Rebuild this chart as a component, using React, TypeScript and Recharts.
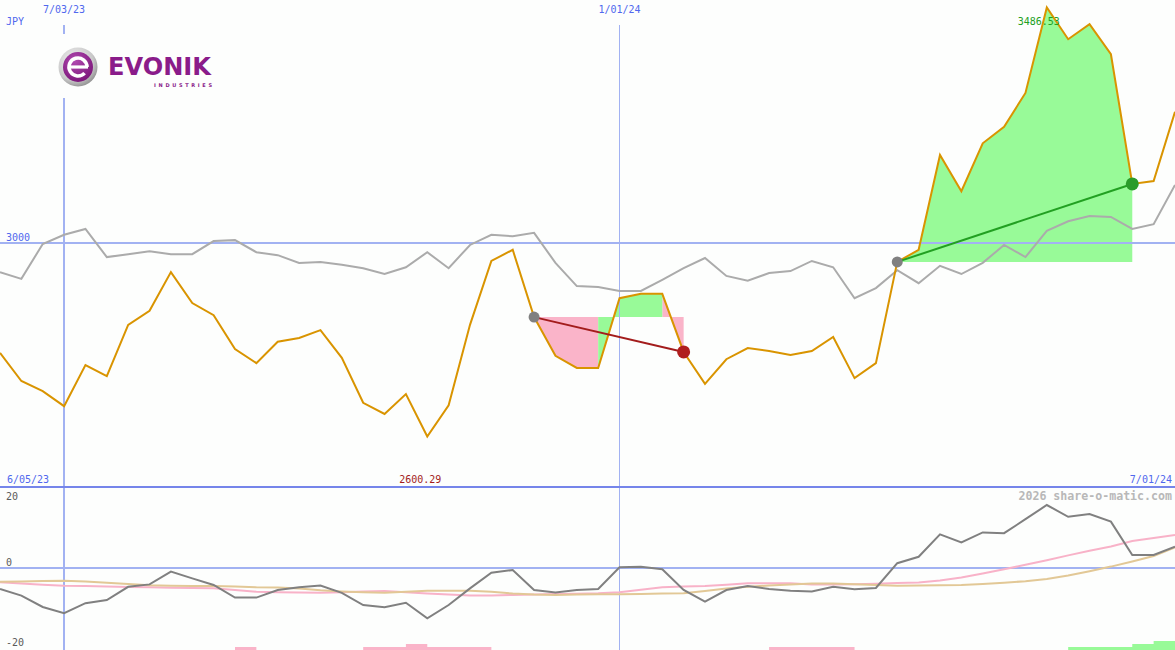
import React from "react";
import { ComposedChart, Line, Area, XAxis, YAxis, ReferenceLine, ReferenceDot } from "recharts";

// ---------- data ----------
const dates = [
  "6/12/23", "6/19/23", "6/26/23", "7/03/23", "7/10/23", "7/17/23", "7/24/23", "7/31/23",
  "8/07/23", "8/14/23", "8/21/23", "8/28/23", "9/04/23", "9/11/23", "9/18/23", "9/25/23",
  "10/02/23", "10/09/23", "10/16/23", "10/23/23", "10/30/23", "11/06/23", "11/13/23", "11/20/23",
  "11/27/23", "12/04/23", "12/11/23", "12/18/23", "12/25/23", "1/01/24", "1/08/24", "1/15/24",
  "1/22/24", "1/29/24", "2/05/24", "2/12/24", "2/19/24", "2/26/24", "3/04/24", "3/11/24",
  "3/18/24", "3/25/24", "4/01/24", "4/08/24", "4/15/24", "4/22/24", "4/29/24", "5/06/24",
  "5/13/24", "5/20/24", "5/27/24", "6/03/24", "6/10/24", "6/17/24", "6/24/24", "7/01/24",
];
const rangeStartLabel = "6/05/23";
const rangeEndLabel = "7/01/24";
const markedDates = ["7/03/23", "1/01/24"];
const currency = "JPY";
const priceGridLevel = 3000;
const oscLevels = [20, 0, -20];
const watermark = "2026 share-o-matic.com";

const price = [
  2773, 2715, 2694, 2663, 2748, 2725, 2831, 2860, 2940, 2876,
  2851, 2781, 2752, 2796, 2804, 2820, 2763, 2670, 2647, 2688,
  2600.29, 2665, 2831, 2963, 2986, 2847, 2767, 2742, 2742, 2886,
  2895, 2895, 2775, 2709, 2760, 2783, 2777, 2769, 2777, 2806,
  2721, 2752, 2961, 2986, 3182, 3107, 3206, 3240, 3310, 3486.53,
  3421, 3452, 3390, 3122, 3128, 3271,
];
const benchmark = [
  2940, 2926, 2998, 3017, 3029, 2971, 2977, 2983, 2977, 2977,
  3004, 3006, 2981, 2975, 2959, 2961, 2955, 2948, 2936, 2950,
  2981, 2948, 2996, 3017, 3014, 3021, 2959, 2911, 2909, 2901,
  2901, 2924, 2948, 2969, 2932, 2922, 2938, 2942, 2963, 2950,
  2886, 2907, 2944, 2917, 2953, 2936, 2959, 2996, 2971, 3025,
  3045, 3056, 3054, 3029, 3039, 3120,
];
const momentum = [
  -5.25, -6.9, -9.75, -11.3, -8.8, -8.0, -4.7, -4.1, -0.9, -2.6,
  -4.25, -7.4, -7.4, -5.5, -4.8, -4.4, -6.2, -9.25, -9.8, -8.7,
  -12.6, -9.25, -5.1, -1.2, -0.5, -5.5, -6.1, -5.5, -5.25, 0.2,
  0.3, -0.3, -5.5, -8.4, -5.5, -4.5, -5.25, -5.7, -5.9, -4.7,
  -5.3, -5.0, 1.2, 2.8, 8.4, 6.4, 8.9, 8.7, 12.2, 15.75,
  12.8, 13.5, 11.6, 3.25, 3.25, 5.3,
];
const avgFast = [
  -3.58, -3.88, -4.18, -4.43, -4.5, -4.63, -4.75, -4.83, -4.93, -5.0,
  -5.08, -5.5, -5.95, -6.08, -6.13, -6.18, -6.08, -5.88, -5.75, -6.08,
  -6.38, -6.63, -6.88, -6.88, -6.75, -6.63, -6.5, -6.43, -6.33, -6.08,
  -5.45, -4.83, -4.63, -4.5, -4.2, -3.83, -3.83, -3.83, -4.15, -4.15,
  -4.08, -3.95, -3.78, -3.6, -3.1, -2.35, -1.38, -0.33, 0.8, 1.93,
  3.15, 4.3, 5.4, 6.73, 7.5, 8.25,
];
const avgSlow = [
  -3.43, -3.38, -3.25, -3.18, -3.38, -3.7, -4.0, -4.33, -4.45, -4.5,
  -4.5, -4.63, -4.83, -4.88, -5.13, -5.58, -5.88, -6.08, -6.18, -5.95,
  -5.68, -5.68, -5.68, -5.95, -6.38, -6.63, -6.75, -6.63, -6.55, -6.55,
  -6.5, -6.4, -6.33, -5.75, -5.15, -4.68, -4.38, -4.13, -3.88, -3.9,
  -4.05, -4.25, -4.43, -4.38, -4.3, -4.25, -4.0, -3.68, -3.3, -2.75,
  -1.9, -0.8, 0.35, 1.63, 3.0, 5.13,
];
const lossBars = [
  0, 0, 0, 0, 0, 0, 0, 0, 0, 0,
  0, 1, 0, 0, 0, 0, 0, 1, 1, 2,
  1, 1, 1, 0, 0, 0, 0, 0, 0, 0,
  0, 0, 0, 0, 0, 0, 1, 1, 1, 1,
  0, 0, 0, 0, 0, 0, 0, 0, 0, 0,
  0, 0, 0, 0, 0, 0,
];
const gainBars = [
  0, 0, 0, 0, 0, 0, 0, 0, 0, 0,
  0, 0, 0, 0, 0, 0, 0, 0, 0, 0,
  0, 0, 0, 0, 0, 0, 0, 0, 0, 0,
  0, 0, 0, 0, 0, 0, 0, 0, 0, 0,
  0, 0, 0, 0, 0, 0, 0, 0, 0, 0,
  1, 1, 1, 2, 3, 3,
];
const trades = [
  { entry: 25, exit: 32 },
  { entry: 42, exit: 53 },
];
const lossSpans = [[25, 28], [31, 32]];
const gainSpans = [[28, 31], [42, 53]];

// ---------- style ----------
const BG = "#fdfefd";
const FONT = "'DejaVu Sans Mono', 'Liberation Mono', monospace";
const BLUE_TXT = "#5068ee";
const GRID = "#a2b2f2";
const SEP = "#7585ea";
const ORANGE = "#d99400";
const GREY = "#ababab";
const PINK = "#fab4c9";
const GREEN = "#98fa98";
const RED_LINE = "#a31c1c";
const GREEN_LINE = "#22a022";

const W = 1175;
const TOP_H = 488;
const BOT_H = 162;
const PRICE_DOMAIN = [2494, 3502];
const OSC_DOMAIN = [-20.5, 20];

const inSpans = (spans: number[][], i: number) => spans.some(([a, b]) => i >= a && i <= b);

const rows = dates.map((date, i) => {
  const trade = trades.find((t) => i >= t.entry && i <= t.exit);
  const lvl = trade ? price[trade.entry] : null;
  const row: any = {
    i,
    date,
    price: price[i],
    benchmark: benchmark[i],
    loss: trade && inSpans(lossSpans, i) ? [lvl, price[i]] : null,
    gain: trade && inSpans(gainSpans, i) ? [lvl, price[i]] : null,
    momentum: momentum[i],
    avgFast: avgFast[i],
    avgSlow: avgSlow[i],
    lossBar: lossBars[i],
    gainBar: gainBars[i],
  };
  trades.forEach((t, ti) => {
    row["trade" + ti] = i === t.entry || i === t.exit ? price[i] : null;
  });
  return row;
});

const dateIndex = (d: string) => dates.indexOf(d);
const lowIdx = price.indexOf(Math.min(...price));
const highIdx = price.indexOf(Math.max(...price));

const T = (x: number, y: number, s: string, fill: string, anchor: any = "start", extra: any = {}) => (
  <text x={x} y={y} fill={fill} fontFamily={FONT} fontSize={10} textAnchor={anchor} {...extra}>
    {s}
  </text>
);

const tradeDot = (t: { entry: number; exit: number }, endColor: string) => (p: any) => {
  const idx = p && p.payload ? p.payload.i : -1;
  if (p == null || p.cx == null || p.cy == null || (idx !== t.entry && idx !== t.exit)) {
    return <g key={"d" + idx + "_" + (p && p.index)} />;
  }
  const isEntry = idx === t.entry;
  return (
    <circle
      key={"d" + idx}
      cx={p.cx}
      cy={p.cy}
      r={isEntry ? 5.5 : 6.5}
      fill={isEntry ? "#808080" : endColor}
      stroke="none"
    />
  );
};

function Logo() {
  const cx = 78;
  const cy = 67;
  return (
    <svg width={240} height={100} style={{ position: "absolute", left: 0, top: 0 }}>
      <defs>
        <radialGradient id="ring" cx="40%" cy="35%" r="70%">
          <stop offset="0%" stopColor="#f6f6f6" />
          <stop offset="70%" stopColor="#c8c8c8" />
          <stop offset="100%" stopColor="#8c8c8c" />
        </radialGradient>
        <radialGradient id="disc" cx="40%" cy="30%" r="75%">
          <stop offset="0%" stopColor="#b04ab0" />
          <stop offset="100%" stopColor="#7a1478" />
        </radialGradient>
      </defs>
      <rect x={46} y={34} width={178} height={64} fill={BG} />
      <circle cx={cx} cy={cy} r={19.5} fill="url(#ring)" />
      <circle cx={cx} cy={cy} r={15} fill="url(#disc)" />
      <path
        d={`M ${cx + 9} ${cy} A 9 9 0 1 0 ${cx + 6.6} ${cy + 6.1}`}
        fill="none"
        stroke="#ffffff"
        strokeWidth={3.6}
      />
      <path d={`M ${cx - 8} ${cy} L ${cx + 10} ${cy}`} stroke="#ffffff" strokeWidth={3.2} />
      <text
        x={108}
        y={75}
        fill="#8a1c8a"
        fontFamily="'DejaVu Sans', sans-serif"
        fontWeight="bold"
        fontSize={25}
        textLength={103}
        lengthAdjust="spacingAndGlyphs"
      >
        EVONIK
      </text>
      <text
        x={154}
        y={86.5}
        fill="#8a1c8a"
        fontFamily="'DejaVu Sans', sans-serif"
        fontWeight="bold"
        fontSize={5}
        textLength={58}
        lengthAdjust="spacing"
      >
        INDUSTRIES
      </text>
    </svg>
  );
}

export default function App() {
  const segTop = PRICE_DOMAIN[1] - (25 / TOP_H) * (PRICE_DOMAIN[1] - PRICE_DOMAIN[0]);
  const sepValue = PRICE_DOMAIN[0] + (1.4 / TOP_H) * (PRICE_DOMAIN[1] - PRICE_DOMAIN[0]);
  return (
    <div style={{ position: "relative", width: W, height: 650, background: BG, overflow: "hidden" }}>
      <style>{`body{margin:0;background:${BG};}`}</style>
      <div style={{ position: "absolute", left: 0, top: 0 }}>
        <ComposedChart width={W} height={TOP_H} data={rows} margin={{ top: 0, right: 0, bottom: 0, left: 0 }}>
          <XAxis dataKey="i" type="number" domain={[0, dates.length - 1]} hide />
          <YAxis domain={PRICE_DOMAIN} hide allowDataOverflow />
          <ReferenceLine
            y={PRICE_DOMAIN[1]}
            stroke="none"
            label={(p: any) => T((p.viewBox?.x ?? 0) + 6, (p.viewBox?.y ?? 0) + 25, currency, BLUE_TXT)}
          />
          <ReferenceLine
            y={priceGridLevel}
            stroke={GRID}
            strokeWidth={2}
            shapeRendering="crispEdges"
            label={(p: any) => T((p.viewBox?.x ?? 0) + 6, (p.viewBox?.y ?? 0) - 2, String(priceGridLevel), BLUE_TXT)}
          />
          {markedDates.map((d, n) => (
            <ReferenceLine
              key={d}
              segment={[
                { x: dateIndex(d), y: segTop },
                { x: dateIndex(d), y: PRICE_DOMAIN[0] },
              ]}
              stroke={GRID}
              strokeWidth={n === 0 ? 2 : 1}
              shapeRendering="crispEdges"
              label={(p: any) => T(p.viewBox?.x ?? 0, (p.viewBox?.y ?? 0) - 12, d, BLUE_TXT, "middle")}
            />
          ))}
          <Area
            dataKey="loss"
            type="linear"
            fill={PINK}
            fillOpacity={1}
            stroke="none"
            isAnimationActive={false}
            dot={false}
            activeDot={false}
          />
          <Area
            dataKey="gain"
            type="linear"
            fill={GREEN}
            fillOpacity={1}
            stroke="none"
            isAnimationActive={false}
            dot={false}
            activeDot={false}
          />
          <ReferenceDot
            x={highIdx}
            y={price[highIdx]}
            r={0}
            fill="none"
            stroke="none"
            label={(p: any) =>
              T((p.viewBox?.x ?? 0) - 8, (p.viewBox?.y ?? 0) + 18, price[highIdx].toFixed(2), "#22a022", "middle")
            }
          />
          <Line
            dataKey="benchmark"
            type="linear"
            stroke={GREY}
            strokeWidth={2}
            dot={false}
            activeDot={false}
            isAnimationActive={false}
          />
          <Line
            dataKey="price"
            type="linear"
            stroke={ORANGE}
            strokeWidth={2}
            dot={false}
            activeDot={false}
            isAnimationActive={false}
          />
          {trades.map((t, ti) => {
            const color = price[t.exit] < price[t.entry] ? RED_LINE : GREEN_LINE;
            const endColor = price[t.exit] < price[t.entry] ? "#b01e1e" : "#2a9c2a";
            return (
              <Line
                key={"trade" + ti}
                dataKey={"trade" + ti}
                type="linear"
                stroke={color}
                strokeWidth={2}
                connectNulls
                dot={tradeDot(t, endColor)}
                activeDot={false}
                isAnimationActive={false}
              />
            );
          })}
          <ReferenceDot
            x={lowIdx}
            y={price[lowIdx]}
            r={0}
            fill="none"
            stroke="none"
            label={(p: any) =>
              T((p.viewBox?.x ?? 0) - 7, (p.viewBox?.y ?? 0) + 46, price[lowIdx].toFixed(2), "#a31c1c", "middle")
            }
          />
          <ReferenceLine
            y={sepValue}
            stroke={SEP}
            strokeWidth={2}
            shapeRendering="crispEdges"
            label={(p: any) => {
              const vb = p.viewBox || {};
              const x = vb.x ?? 0;
              const y = vb.y ?? 0;
              const w = vb.width ?? W;
              return (
                <g>
                  {T(x + 7, y - 4, rangeStartLabel, BLUE_TXT)}
                  {T(x + w - 3, y - 4, rangeEndLabel, BLUE_TXT, "end")}
                </g>
              );
            }}
          />
        </ComposedChart>
      </div>
      <div style={{ position: "absolute", left: 0, top: TOP_H }}>
        <ComposedChart width={W} height={BOT_H} data={rows} margin={{ top: 0, right: 0, bottom: 0, left: 0 }}>
          <XAxis dataKey="i" type="number" domain={[0, dates.length - 1]} hide />
          <YAxis yAxisId="osc" domain={OSC_DOMAIN} hide allowDataOverflow />
          <YAxis yAxisId="bars" domain={[0, 54]} hide allowDataOverflow />
          {markedDates.map((d, n) => (
            <ReferenceLine
              key={d}
              yAxisId="osc"
              x={dateIndex(d)}
              stroke={GRID}
              strokeWidth={n === 0 ? 2 : 1}
              shapeRendering="crispEdges"
            />
          ))}
          <ReferenceLine
            yAxisId="osc"
            y={oscLevels[1]}
            stroke={GRID}
            strokeWidth={2}
            shapeRendering="crispEdges"
            label={(p: any) => T((p.viewBox?.x ?? 0) + 6, (p.viewBox?.y ?? 0) - 2, String(oscLevels[1]), "#5a5a5a")}
          />
          <ReferenceLine
            yAxisId="osc"
            y={oscLevels[0]}
            stroke="none"
            label={(p: any) => {
              const vb = p.viewBox || {};
              const x = vb.x ?? 0;
              const y = vb.y ?? 0;
              const w = vb.width ?? W;
              return (
                <g>
                  {T(x + 6, y + 12, String(oscLevels[0]), "#5a5a5a")}
                  {T(x + w - 3, y + 11.5, watermark, "#b8b8b8", "end", { fontSize: 11.6, fontWeight: "bold" })}
                </g>
              );
            }}
          />
          <ReferenceLine
            yAxisId="osc"
            y={oscLevels[2]}
            stroke="none"
            label={(p: any) => T((p.viewBox?.x ?? 0) + 6, (p.viewBox?.y ?? 0) - 2, String(oscLevels[2]), "#5a5a5a")}
          />
          <Area
            yAxisId="bars"
            dataKey="lossBar"
            type="stepAfter"
            fill={PINK}
            fillOpacity={1}
            stroke="none"
            dot={false}
            activeDot={false}
            isAnimationActive={false}
          />
          <Area
            yAxisId="bars"
            dataKey="gainBar"
            type="stepAfter"
            fill={GREEN}
            fillOpacity={1}
            stroke="none"
            dot={false}
            activeDot={false}
            isAnimationActive={false}
          />
          <Line
            yAxisId="osc"
            dataKey="avgFast"
            type="linear"
            stroke="#f8b2c8"
            strokeWidth={2}
            dot={false}
            activeDot={false}
            isAnimationActive={false}
          />
          <Line
            yAxisId="osc"
            dataKey="avgSlow"
            type="linear"
            stroke="#e2c896"
            strokeWidth={2}
            dot={false}
            activeDot={false}
            isAnimationActive={false}
          />
          <Line
            yAxisId="osc"
            dataKey="momentum"
            type="linear"
            stroke="#808080"
            strokeWidth={2}
            dot={false}
            activeDot={false}
            isAnimationActive={false}
          />
        </ComposedChart>
      </div>
      <Logo />
    </div>
  );
}
